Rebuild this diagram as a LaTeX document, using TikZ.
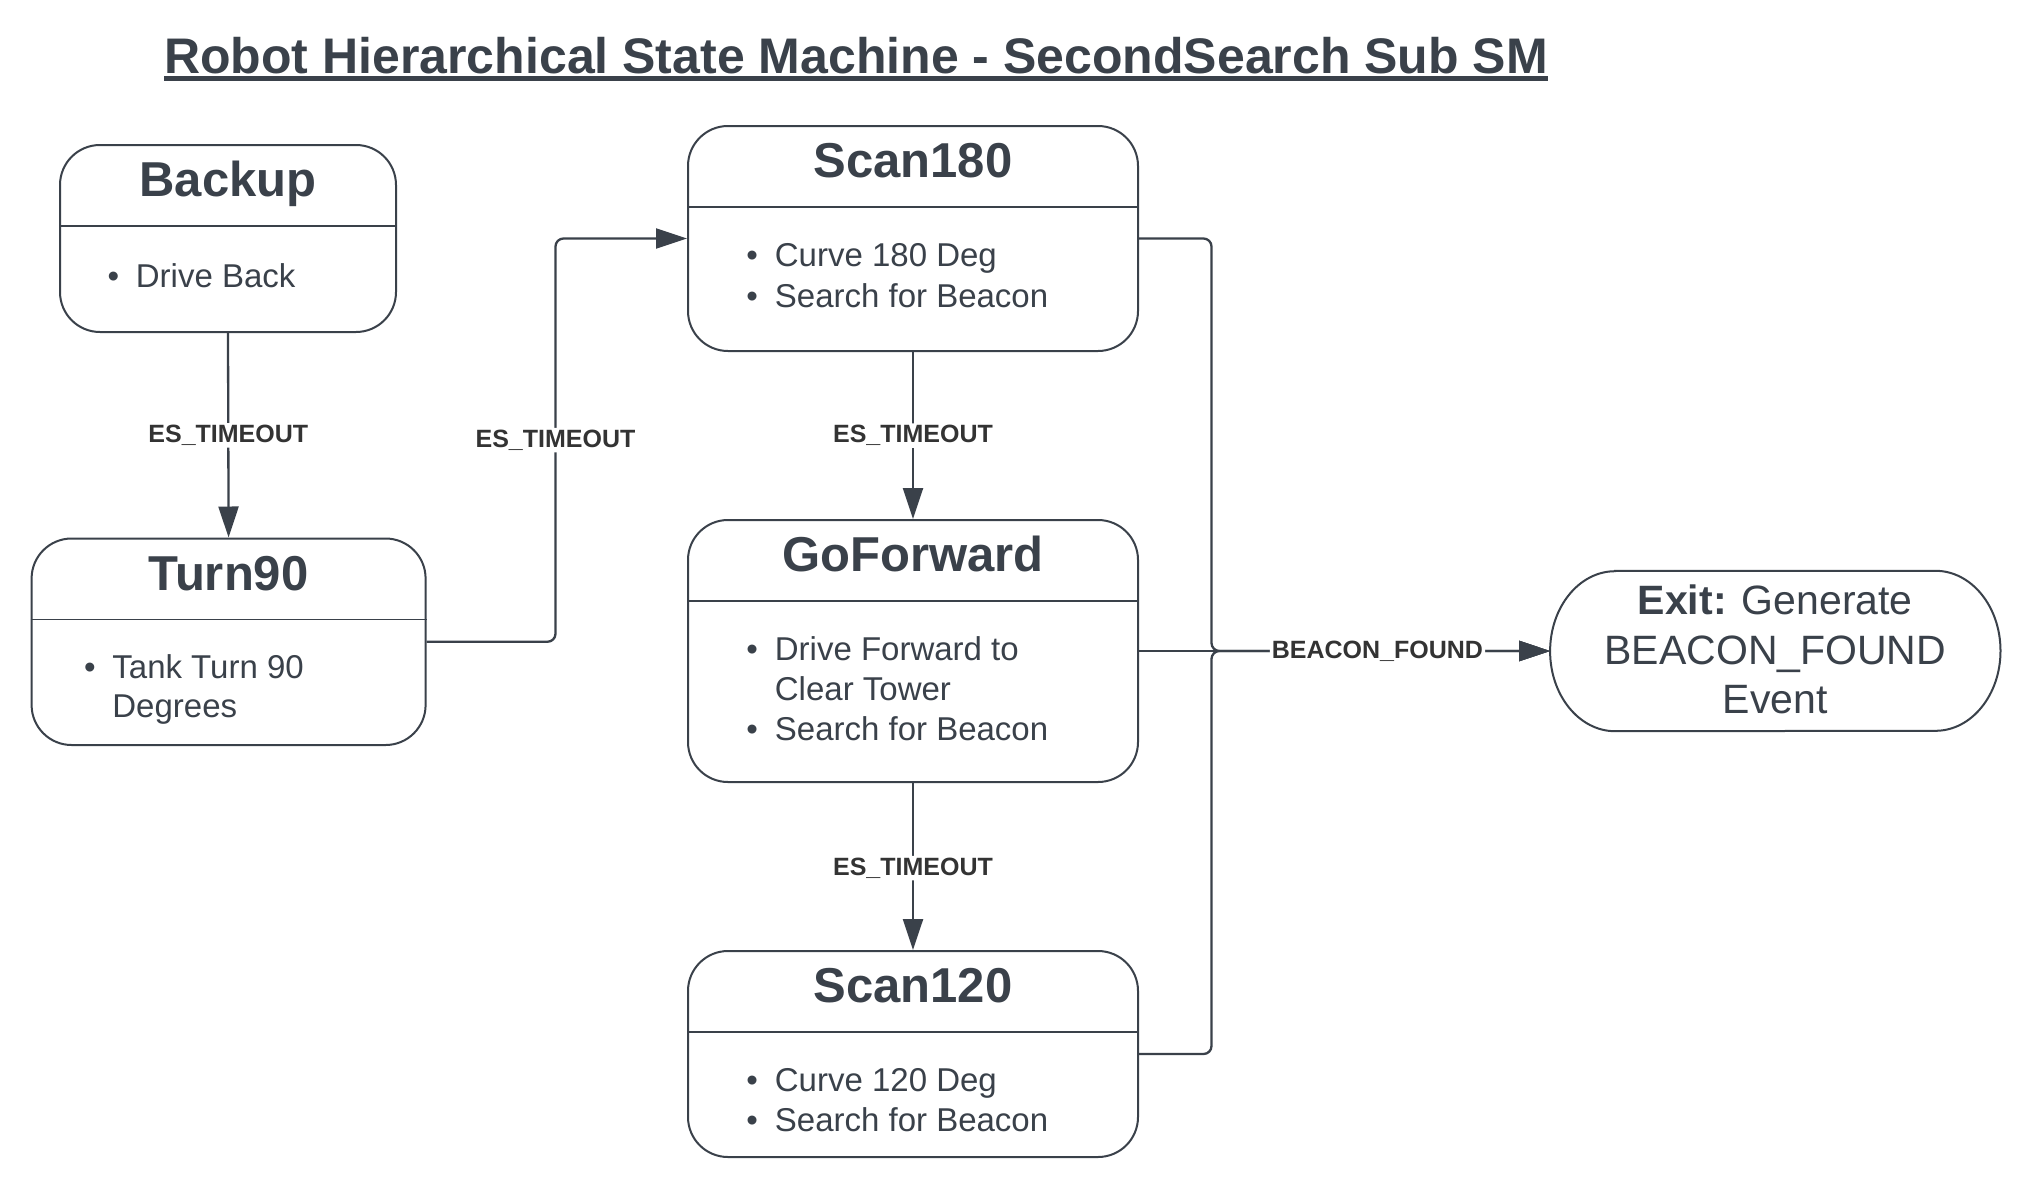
\documentclass[tikz,border=0pt]{standalone}
\usepackage{fontspec}
\setmainfont{Liberation Sans}
\usetikzlibrary{arrows.meta,calc}
\definecolor{ink}{HTML}{3A414A}
\definecolor{lblink}{HTML}{333333}
\newcommand\stTitleFont{\fontsize{49}{59}\selectfont\bfseries}
\newcommand\stBodyFont{\fontsize{33}{40}\selectfont}
\newcommand\stLblFont{\fontsize{25}{30}\selectfont\bfseries}
\newcommand\stHeadFont{\fontsize{50}{60}\selectfont\bfseries}
\newcommand\stExitFont{\fontsize{41}{49}\selectfont}
\begin{document}
\begin{tikzpicture}[x=1pt,y=1pt,
  statebox/.style={draw=ink, line width=2pt, rounded corners=40pt, fill=white, inner sep=0pt},
  divider/.style={draw=ink, line width=1.4pt},
  ttl/.style={text=ink, font=\stTitleFont, anchor=base, inner sep=0pt},
  item/.style={text=ink, font=\stBodyFont, anchor=base west, inner sep=0pt},
  bul/.style={text=ink, font=\stBodyFont, anchor=base, inner sep=0pt},
  lbl/.style={fill=white, text=lblink, font=\stLblFont, inner sep=2pt},
  conn/.style={draw=ink, line width=2.3pt, rounded corners=8pt, -{Triangle[length=31pt,width=20pt]}},
  exittxt/.style={text=ink, font=\stExitFont, anchor=base, inner sep=0pt}
]
\fill[white] (0,0) rectangle (2042,-1181);
\useasboundingbox (0,0) rectangle (2042,-1181);

% heading
\node[text=ink, font=\stHeadFont, anchor=base west, inner sep=0pt] (heading) at (164,-73.3)
  {Robot Hierarchical State Machine - SecondSearch Sub SM};
\draw[ink, line width=4.6pt] ([yshift=-5pt]heading.base west) -- ([yshift=-5pt]heading.base east);

% Backup
\node[statebox, minimum width=336pt, minimum height=187pt] (backup) at (228,-238.5) {};
\draw[divider] ([yshift=-82pt]backup.north west) -- ([yshift=-82pt]backup.north east);
\node[ttl] (backupT) at ([yshift=-52.5pt]backup.north) {Backup};
\node[bul] (backupB1) at ($(backup.north west)+(54.3,-143)$) {•};
\node[item] (backupI1) at ($(backup.north west)+(76.7,-143)$) {Drive Back};

% Turn90
\node[statebox, minimum width=394pt, minimum height=206.5pt] (turn90) at (228.6,-641.75) {};
\draw[divider] ([yshift=-82pt]turn90.north west) -- ([yshift=-82pt]turn90.north east);
\node[ttl] (turn90T) at ([yshift=-52.5pt]turn90.north) {Turn90};
\node[bul] (turn90B1) at ($(turn90.north west)+(59.3,-141)$) {•};
\node[item] (turn90I1) at ($(turn90.north west)+(81.6,-141)$) {Tank Turn 90};
\node[item] (turn90I2) at ($(turn90.north west)+(81.6,-180)$) {Degrees};

% Scan180
\node[statebox, minimum width=450pt, minimum height=225pt] (scan180) at (913,-238.5) {};
\draw[divider] ([yshift=-82pt]scan180.north west) -- ([yshift=-82pt]scan180.north east);
\node[ttl] (scan180T) at ([yshift=-52.5pt]scan180.north) {Scan180};
\node[bul] (scan180B1) at ($(scan180.north west)+(65.2,-141.5)$) {•};
\node[item] (scan180I1) at ($(scan180.north west)+(87.7,-141.5)$) {Curve 180 Deg};
\node[bul] (scan180B2) at ($(scan180.north west)+(65.2,-182)$) {•};
\node[item] (scan180I2) at ($(scan180.north west)+(87.7,-182)$) {Search for Beacon};

% GoForward
\node[statebox, minimum width=450pt, minimum height=262pt] (gofwd) at (913,-651) {};
\draw[divider] ([yshift=-82pt]gofwd.north west) -- ([yshift=-82pt]gofwd.north east);
\node[ttl] (gofwdT) at ([yshift=-52.5pt]gofwd.north) {GoForward};
\node[bul] (gofwdB1) at ($(gofwd.north west)+(65.2,-141.5)$) {•};
\node[item] (gofwdI1) at ($(gofwd.north west)+(87.7,-141.5)$) {Drive Forward to};
\node[item] (gofwdI2) at ($(gofwd.north west)+(87.7,-181.5)$) {Clear Tower};
\node[bul] (gofwdB3) at ($(gofwd.north west)+(65.2,-221.5)$) {•};
\node[item] (gofwdI3) at ($(gofwd.north west)+(87.7,-221.5)$) {Search for Beacon};

% Scan120
\node[statebox, minimum width=450pt, minimum height=206pt] (scan120) at (913,-1054) {};
\draw[divider] ([yshift=-82pt]scan120.north west) -- ([yshift=-82pt]scan120.north east);
\node[ttl] (scan120T) at ([yshift=-52.5pt]scan120.north) {Scan120};
\node[bul] (scan120B1) at ($(scan120.north west)+(65.2,-141.5)$) {•};
\node[item] (scan120I1) at ($(scan120.north west)+(87.7,-141.5)$) {Curve 120 Deg};
\node[bul] (scan120B2) at ($(scan120.north west)+(65.2,-181)$) {•};
\node[item] (scan120I2) at ($(scan120.north west)+(87.7,-181)$) {Search for Beacon};

% Exit terminal
\node[minimum width=450pt, minimum height=160pt, inner sep=0pt] (exit) at (1775.3,-651) {};
\draw[ink, line width=2pt]
  ($(exit.north west)+(65,0)$) -- ($(exit.north east)+(-65,0)$)
  arc[start angle=90, end angle=-90, x radius=65pt, y radius=80pt]
  -- ($(exit.south west)+(65,0)$)
  arc[start angle=270, end angle=90, x radius=65pt, y radius=80pt] -- cycle;
\node[exittxt] (exitL1) at ($(exit.north)+(0,-44)$) {\textbf{Exit:} Generate};
\node[exittxt] (exitL2) at ($(exit.north)+(0,-94)$) {BEACON\_FOUND};
\node[exittxt] (exitL3) at ($(exit.north)+(0,-143)$) {Event};

% connectors
\coordinate (kx) at (555.5,0);
\coordinate (jn) at (1211.5,-651);
\draw[conn] (backup.south) -- node[lbl, pos=0.5] (lblA) {ES\_TIMEOUT} (turn90.north);
\draw[conn] (turn90.east) -| node[lbl, pos=0.75] (lblB) {ES\_TIMEOUT} (kx |- scan180.west) -- (scan180.west);
\draw[conn] (scan180.south) -- node[lbl, pos=0.5] (lblC) {ES\_TIMEOUT} (gofwd.north);
\draw[conn] (gofwd.south) -- node[lbl, pos=0.51] (lblD) {ES\_TIMEOUT} (scan120.north);
\draw[conn] (scan180.east) -| (jn) -- (exit.west);
\draw[conn] (scan120.east) -| (jn) -- (exit.west);
\draw[conn] (gofwd.east) -- node[lbl, pos=0.58] (lblE) {BEACON\_FOUND} (exit.west);
\end{tikzpicture}
\end{document}
